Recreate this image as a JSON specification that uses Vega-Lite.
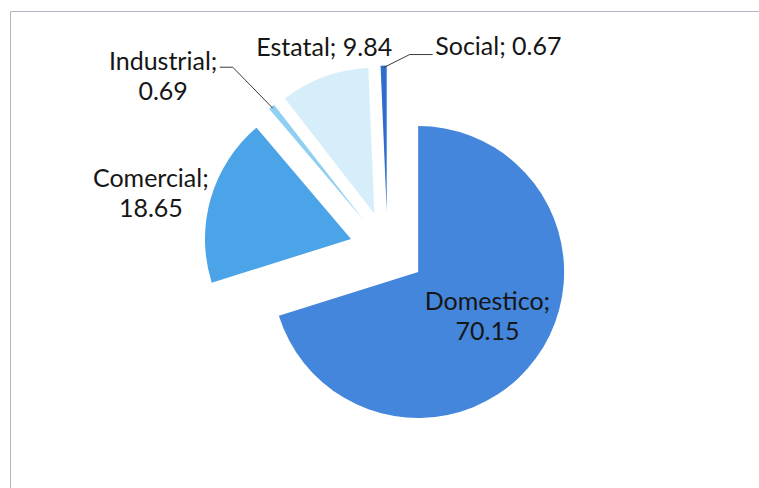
{
  "$schema": "https://vega.github.io/schema/vega-lite/v6.json",
  "width": 749,
  "height": 477,
  "autosize": "none",
  "padding": {"left": 10, "top": 11, "right": 0, "bottom": 0},
  "background": "white",
  "config": {"view": {"stroke": "#b4b4c4", "strokeWidth": 1}, "text": {"font": "Lato"}},
  "data": {"values": [
    {"cat": "Domestico", "v": 70.15, "k": 1},
    {"cat": "Comercial", "v": 18.65, "k": 2},
    {"cat": "Industrial", "v": 0.69, "k": 3},
    {"cat": "Estatal", "v": 9.84, "k": 4},
    {"cat": "Social", "v": 0.67, "k": 5}
  ]},
  "transform": [
    {"joinaggregate": [{"op": "sum", "field": "v", "as": "tot"}]},
    {"window": [{"op": "sum", "field": "v", "as": "cum"}], "sort": [{"field": "k", "order": "ascending"}], "frame": [null, 0]},
    {"calculate": "(datum.cum - datum.v / 2) / datum.tot * 2 * PI", "as": "mid"},
    {"calculate": "38 * sin(datum.mid)", "as": "ex"},
    {"calculate": "-38 * cos(datum.mid)", "as": "ey"},
    {"calculate": "182 * sin(datum.mid)", "as": "lx"},
    {"calculate": "-182 * cos(datum.mid)", "as": "ly"},
    {"calculate": "datum.cat + '; ' + format(datum.v, '.2f')", "as": "lab1"},
    {"calculate": "[datum.cat + ';', format(datum.v, '.2f')]", "as": "lab2"}
  ],
  "layer": [
    {
      "encoding": {
        "x": {"field": "ex", "type": "quantitative", "scale": null},
        "y": {"field": "ey", "type": "quantitative", "scale": null},
        "theta": {"field": "v", "type": "quantitative", "stack": true},
        "order": {"field": "k", "type": "quantitative"},
        "detail": {"field": "cat", "type": "nominal"}
      },
      "layer": [
        {
          "mark": {"type": "arc", "radius": 146, "xOffset": {"expr": "width/2+3"}, "yOffset": {"expr": "height/2"}},
          "encoding": {
            "color": {"field": "cat", "type": "nominal", "legend": null,
              "scale": {"domain": ["Domestico", "Comercial", "Industrial", "Estatal", "Social"],
                        "range": ["#4486dc", "#4ba3e8", "#8fd0f2", "#d6eefa", "#2f6fcc"]}}
          }
        },
        {
          "mark": {"type": "text", "radius": 81, "dx": 4, "dy": -18, "xOffset": {"expr": "width/2+3"}, "yOffset": {"expr": "height/2"}, "fontSize": 25, "lineHeight": 30, "fill": "#161616", "align": "center", "baseline": "middle"},
          "encoding": {"text": {"condition": {"test": "datum.cat === 'Domestico'", "field": "lab2", "type": "nominal"}, "value": ""}}
        },
        {
          "mark": {"type": "text", "radius": 200, "dx": -8, "dy": -4, "xOffset": {"expr": "width/2+3"}, "yOffset": {"expr": "height/2"}, "fontSize": 25, "lineHeight": 30, "fill": "#161616", "align": "center", "baseline": "middle"},
          "encoding": {"text": {"condition": {"test": "datum.cat === 'Comercial'", "field": "lab2", "type": "nominal"}, "value": ""}}
        },
        {
          "mark": {"type": "text", "radius": 245, "dx": -46, "dy": 32, "xOffset": {"expr": "width/2+3"}, "yOffset": {"expr": "height/2"}, "fontSize": 25, "lineHeight": 30, "fill": "#161616", "align": "center", "baseline": "middle"},
          "encoding": {"text": {"condition": {"test": "datum.cat === 'Industrial'", "field": "lab2", "type": "nominal"}, "value": ""}}
        },
        {
          "mark": {"type": "text", "radius": 175, "dx": 10, "dy": -2, "xOffset": {"expr": "width/2+3"}, "yOffset": {"expr": "height/2"}, "fontSize": 25, "fill": "#161616", "align": "center", "baseline": "middle"},
          "encoding": {"text": {"condition": {"test": "datum.cat === 'Estatal'", "field": "lab1", "type": "nominal"}, "value": ""}}
        },
        {
          "mark": {"type": "text", "radius": 165, "dx": 52, "dy": 0, "xOffset": {"expr": "width/2+3"}, "yOffset": {"expr": "height/2"}, "fontSize": 25, "fill": "#161616", "align": "left", "baseline": "middle"},
          "encoding": {"text": {"condition": {"test": "datum.cat === 'Social'", "field": "lab1", "type": "nominal"}, "value": ""}}
        }
      ]
    },
    {
      "transform": [{"filter": "datum.cat === 'Industrial'"}],
      "mark": {"type": "rule", "color": "#3a3a3a", "strokeWidth": 1, "xOffset": {"expr": "width/2+3"}, "yOffset": {"expr": "height/2"}, "x2Offset": {"expr": "width/2+3-40"}, "y2Offset": {"expr": "height/2-41"}},
      "encoding": {
        "x": {"field": "lx", "type": "quantitative", "scale": null},
        "y": {"field": "ly", "type": "quantitative", "scale": null},
        "x2": {"field": "lx"},
        "y2": {"field": "ly"}
      }
    },
    {
      "transform": [{"filter": "datum.cat === 'Industrial'"}],
      "mark": {"type": "rule", "color": "#3a3a3a", "strokeWidth": 1, "xOffset": {"expr": "width/2+3-40"}, "yOffset": {"expr": "height/2-41"}, "x2Offset": {"expr": "width/2+3-53"}, "y2Offset": {"expr": "height/2-41"}},
      "encoding": {
        "x": {"field": "lx", "type": "quantitative", "scale": null},
        "y": {"field": "ly", "type": "quantitative", "scale": null},
        "x2": {"field": "lx"},
        "y2": {"field": "ly"}
      }
    },
    {
      "transform": [{"filter": "datum.cat === 'Social'"}],
      "mark": {"type": "rule", "color": "#3a3a3a", "strokeWidth": 1, "xOffset": {"expr": "width/2+3"}, "yOffset": {"expr": "height/2"}, "x2Offset": {"expr": "width/2+3+26"}, "y2Offset": {"expr": "height/2-13"}},
      "encoding": {
        "x": {"field": "lx", "type": "quantitative", "scale": null},
        "y": {"field": "ly", "type": "quantitative", "scale": null},
        "x2": {"field": "lx"},
        "y2": {"field": "ly"}
      }
    },
    {
      "transform": [{"filter": "datum.cat === 'Social'"}],
      "mark": {"type": "rule", "color": "#3a3a3a", "strokeWidth": 1, "xOffset": {"expr": "width/2+3+26"}, "yOffset": {"expr": "height/2-13"}, "x2Offset": {"expr": "width/2+3+49"}, "y2Offset": {"expr": "height/2-13"}},
      "encoding": {
        "x": {"field": "lx", "type": "quantitative", "scale": null},
        "y": {"field": "ly", "type": "quantitative", "scale": null},
        "x2": {"field": "lx"},
        "y2": {"field": "ly"}
      }
    }
  ]
}
